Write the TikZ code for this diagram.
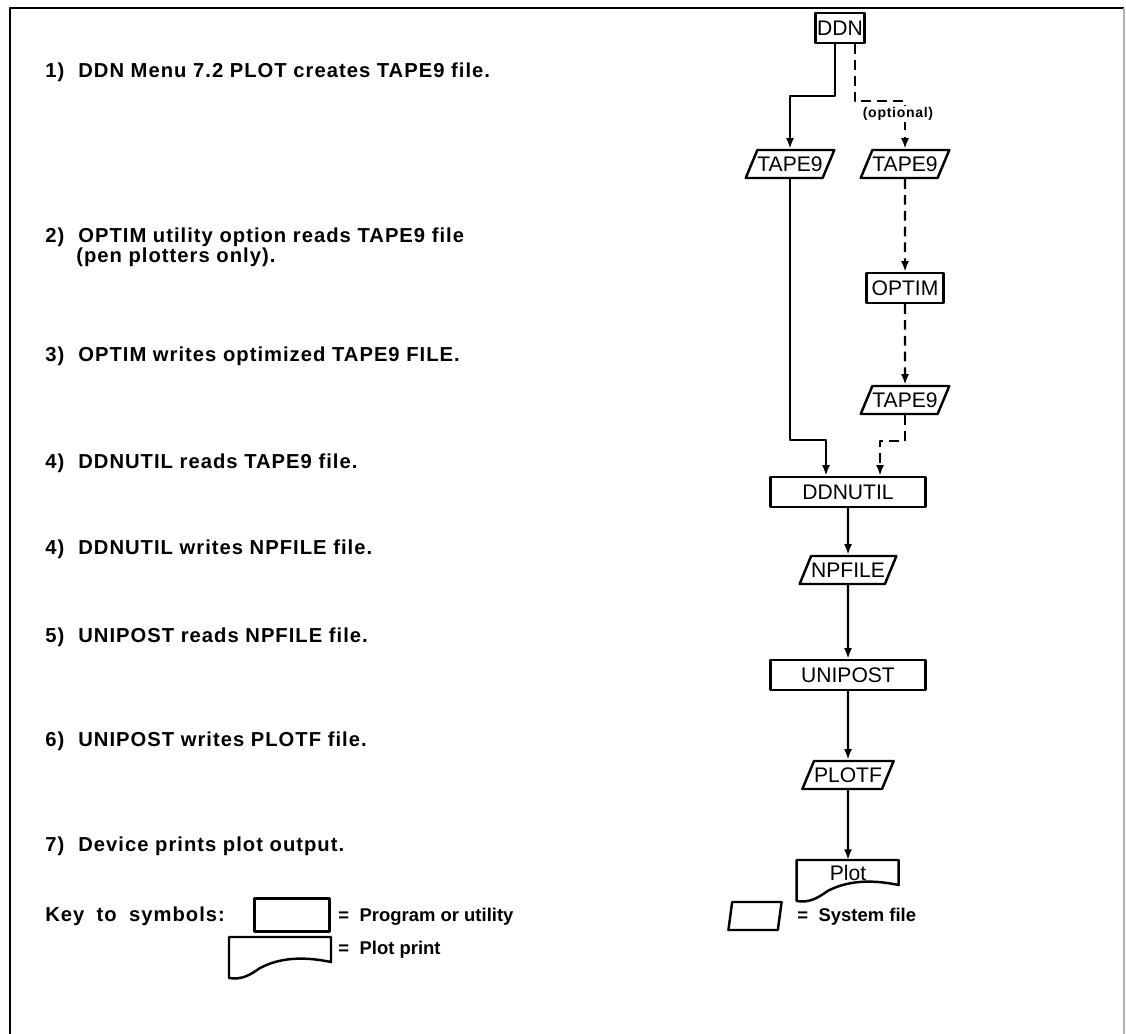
\documentclass[tikz,border=0pt]{standalone}
\usepackage{fontspec}
\setmainfont{Liberation Sans}
\newfontfamily\stepfont{Liberation Sans}[LetterSpace=5]
\usetikzlibrary{arrows.meta,shapes.geometric}
\tikzset{
  every picture/.style={line join=round, >=Latex},
  prog/.style={draw, line width=1.4pt, font=\fontsize{12}{14}\selectfont, minimum height=0.6cm, inner xsep=3pt, inner ysep=2pt},
  sysfile/.style={prog, trapezium, trapezium left angle=62, trapezium right angle=118, trapezium stretches=true, minimum height=0.56cm, inner xsep=0pt},
  docnode/.style={anchor=north, minimum width=2.04cm, minimum height=0.52cm, inner sep=0pt, font=\fontsize{12}{14}\selectfont},
  docline/.style={line width=1.4pt},
  flow/.style={line width=1.2pt, -{Latex[length=6pt,width=4.5pt]}},
  optflow/.style={flow, dash pattern=on 5.5pt off 3.5pt},
  optlabel/.style={fill=white, inner sep=1pt, font=\stepfont\bfseries\fontsize{8}{10}\selectfont},
  stepnum/.style={anchor=base west, inner sep=0pt, font=\stepfont\bfseries\fontsize{11.5}{14}\selectfont},
  steptext/.style={stepnum},
  keytext/.style={anchor=base west, inner sep=0pt, font=\bfseries\fontsize{10.5}{12}\selectfont},
  pics/plotdoc/.style={code={
    \draw[docline] (0,0) -- (102,0) -- (102,25) .. controls (73,19) and (50,21) .. (31,31)
      .. controls (21,38) and (13,43) .. (0,41) -- cycle;
  }},
}

\begin{document}
\begin{tikzpicture}[x=0.02cm, y=-0.02cm]
\useasboundingbox (0,0) rectangle (1126,1034);
% frame
\draw[line width=1pt] (10,1034) -- (10,8) -- (1124,8);
\draw[line width=0.6pt, gray!60] (1124,8) -- (1124,1034);

% steps on the left
\node[stepnum] (n1) at (45,78) {1)};
\node[steptext] (t1) at (78,78) {DDN Menu 7.2 PLOT creates TAPE9 file.};
\node[stepnum] (n2) at (45,242) {2)};
\node[steptext] (t2) at (78,242) {OPTIM utility option reads TAPE9 file};
\node[steptext] (t2b) at (76,262) {(pen plotters only).};
\node[stepnum] (n3) at (45,361) {3)};
\node[steptext] (t3) at (78,361) {OPTIM writes optimized TAPE9 FILE.};
\node[stepnum] (n4) at (45,468) {4)};
\node[steptext] (t4) at (78,468) {DDNUTIL reads TAPE9 file.};
\node[stepnum] (n4b) at (45,554) {4)};
\node[steptext] (t4b) at (78,554) {DDNUTIL writes NPFILE file.};
\node[stepnum] (n5) at (45,642) {5)};
\node[steptext] (t5) at (78,642) {UNIPOST reads NPFILE file.};
\node[stepnum] (n6) at (45,746) {6)};
\node[steptext] (t6) at (78,746) {UNIPOST writes PLOTF file.};
\node[stepnum] (n7) at (45,851) {7)};
\node[steptext] (t7) at (78,851) {Device prints plot output.};

% flow chart
\node[prog, inner xsep=1pt] (ddn) at (840,28) {DDN};
\node[sysfile] (tapeA) at (790,164) {TAPE9};
\node[sysfile] (tapeB) at (905,164) {TAPE9};
\node[prog] (optim) at (905,288) {OPTIM};
\node[sysfile] (tapeC) at (905,400) {TAPE9};
\node[prog, minimum width=3.1cm] (ddnutil) at (848,492) {DDNUTIL};
\node[sysfile] (npfile) at (848,570) {NPFILE};
\node[prog, minimum width=3.1cm] (unipost) at (848,675) {UNIPOST};
\node[sysfile] (plotf) at (848,775) {PLOTF};
\node[docnode] (plot) at (848,860) {Plot};
\pic at (plot.north west) {plotdoc};

\coordinate (joinL) at (826,440);
\coordinate (joinR) at (880,441);
\draw[flow] ([xshift=-0.1cm]ddn.south) -- ++(0,52) -| (tapeA.north);
\draw[optflow] ([xshift=0.3cm]ddn.south) -- ++(0,57) -| (tapeB.north);
\node[optlabel] (optlbl) at (898,114) {(optional)};
\draw[optflow] (tapeB) -- (optim);
\draw[optflow] (optim) -- (tapeC);
\draw[flow] (tapeA.south) |- (joinL) -- (joinL |- ddnutil.north);
\draw[optflow] (tapeC.south) |- (joinR) -- (joinR |- ddnutil.north);
\draw[flow] (ddnutil) -- (npfile);
\draw[flow] (npfile) -- (unipost);
\draw[flow] (unipost) -- (plotf);
\draw[flow] (plotf) -- (plot.north);

% key
\node[steptext] (keyhead) at (45,921) {Key\hspace{7pt}to\hspace{7pt}symbols:};
\node[prog, minimum width=1.5cm, minimum height=0.66cm] (keyprog) at (292,915) {};
\node[keytext] (keyprogtxt) at (338,921) {=\hspace{6pt}Program or utility};
\pic at (229,937) {plotdoc};
\node[keytext] (keydoctxt) at (338,954) {=\hspace{6pt}Plot print};
\node[sysfile] (keyfile) at (755,916) {\rule{26pt}{0pt}};
\node[keytext] (keyfiletxt) at (797,921) {=\hspace{6pt}System file};
\end{tikzpicture}
\end{document}
